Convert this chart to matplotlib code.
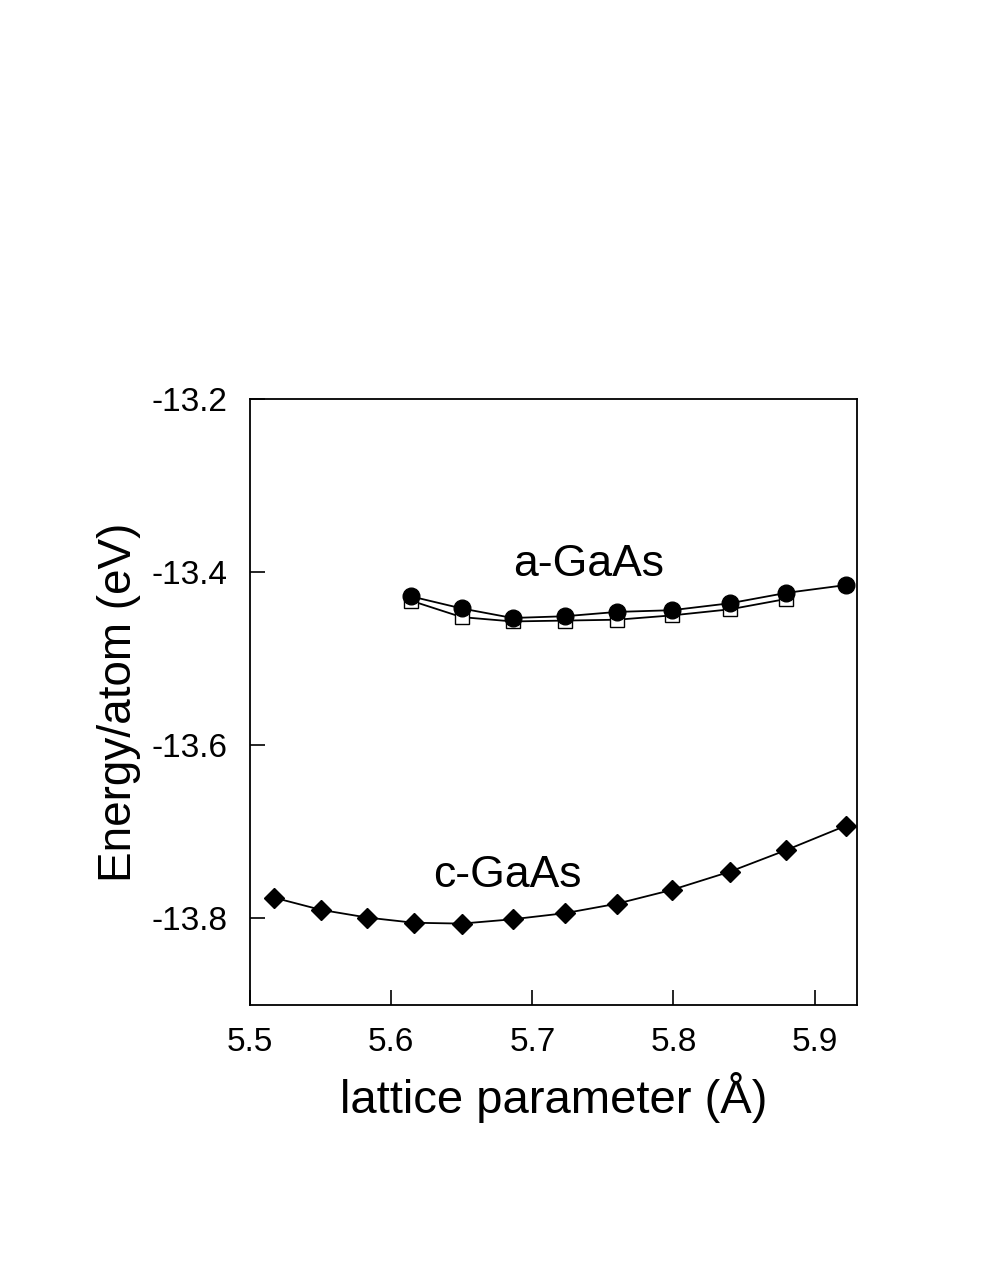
import matplotlib
matplotlib.use('Agg')
import matplotlib.pyplot as plt

plt.rcParams['font.family'] = ['Liberation Sans', 'DejaVu Sans']

# crystalline GaAs
c_lat = [5.517, 5.550, 5.583, 5.616, 5.650, 5.686, 5.723, 5.760, 5.799, 5.840, 5.880, 5.922]
c_en = [-13.776, -13.790, -13.799, -13.805, -13.806, -13.801, -13.794, -13.783,
        -13.767, -13.746, -13.721, -13.693]

# amorphous GaAs, filled circles
a_lat = [5.614, 5.650, 5.686, 5.723, 5.760, 5.799, 5.840, 5.880, 5.922]
a_en = [-13.428, -13.442, -13.453, -13.451, -13.446, -13.444, -13.436, -13.424, -13.415]

# amorphous GaAs, open squares
s_lat = [5.614, 5.650, 5.686, 5.723, 5.760, 5.799, 5.840, 5.880]
s_en = [-13.433, -13.452, -13.457, -13.456, -13.455, -13.450, -13.443, -13.431]

fig = plt.figure(figsize=(9.81, 12.84), dpi=100)
ax = fig.add_axes([0.2548, 0.2173, 0.6188, 0.472])

ax.plot(s_lat, s_en, color='black', lw=1.3, marker='s', ms=10,
        mfc='white', mec='black', mew=1.0)
ax.plot(a_lat, a_en, color='black', lw=1.3, marker='o', ms=12,
        mfc='black', mec='black')
ax.plot(c_lat, c_en, color='black', lw=1.3, marker='D', ms=10,
        mfc='black', mec='black')

ax.text(5.740, -13.391, 'a-GaAs', fontsize=32, ha='center', va='center')
ax.text(5.682, -13.750, 'c-GaAs', fontsize=32, ha='center', va='center')

ax.set_xlim(5.5, 5.93)
ax.set_ylim(-13.9, -13.2)
ax.set_xticks([5.5, 5.6, 5.7, 5.8, 5.9])
ax.set_xticklabels(['5.5', '5.6', '5.7', '5.8', '5.9'])
ax.set_yticks([-13.8, -13.6, -13.4, -13.2])
ax.set_yticklabels(['-13.8', '-13.6', '-13.4', '-13.2'])
ax.tick_params(direction='in', length=11, width=1.2, labelsize=24)
ax.tick_params(axis='x', pad=16)
ax.tick_params(axis='y', pad=16)
for s in ax.spines.values():
    s.set_linewidth(1.3)

ax.set_xlabel('lattice parameter (Å)', fontsize=34, labelpad=10)
ax.set_ylabel('Energy/atom (eV)', fontsize=33, labelpad=8)

plt.savefig('out.png', dpi=100)
